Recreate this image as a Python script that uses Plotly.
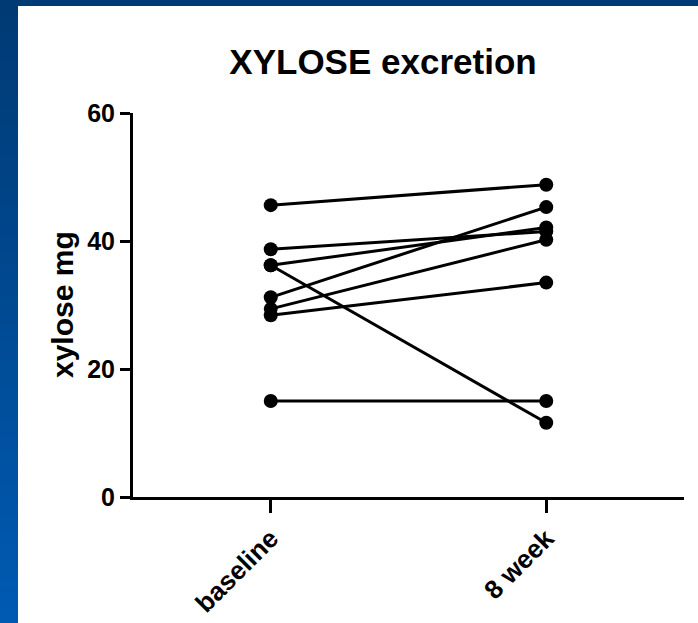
import plotly.graph_objects as go

# ---- data ----
timepoints = ["baseline", "8 week"]
baseline = [45.6, 38.7, 36.2, 36.2, 31.2, 29.4, 28.4, 15.0]
week8 = [48.8, 41.5, 42.1, 11.6, 45.3, 40.2, 33.5, 15.0]
y_ticks = [0, 20, 40, 60]
title_text = "XYLOSE excretion"
y_label = "xylose mg"

W, H = 698, 623
ML, MR, MT, MB = 133, 14, 113, 126
PW = W - ML - MR
PH = H - MT - MB

def px_x(p):
    return (p - ML) / PW

def px_y(p):
    return 1 - (p - MT) / PH

fig = go.Figure()
for b, w in zip(baseline, week8):
    fig.add_trace(go.Scatter(
        x=timepoints, y=[b, w], mode="lines+markers",
        line=dict(color="black", width=3),
        marker=dict(color="black", size=14, symbol="circle"),
        showlegend=False, cliponaxis=False,
    ))

# blue frame (top band + left gradient band)
shapes = []
shapes.append(dict(type="rect", xref="paper", yref="paper",
                   x0=px_x(0), x1=px_x(W), y0=px_y(0), y1=px_y(6),
                   fillcolor="#003A74", line=dict(width=0), layer="below"))
n = 40
c0 = (0, 58, 116)
c1 = (0, 90, 178)
for i in range(n):
    t = i / (n - 1)
    col = "rgb(%d,%d,%d)" % tuple(round(a + (b - a) * t) for a, b in zip(c0, c1))
    y0 = H * i / n
    y1 = H * (i + 1) / n + 1
    shapes.append(dict(type="rect", xref="paper", yref="paper",
                       x0=px_x(0), x1=px_x(18), y0=px_y(y0), y1=px_y(min(y1, H)),
                       fillcolor=col, line=dict(width=0), layer="below"))

font_family = "Liberation Sans, Arial, sans-serif"

fig.update_layout(
    width=W, height=H,
    margin=dict(l=ML, r=MR, t=MT, b=MB, pad=0, autoexpand=False),
    paper_bgcolor="white", plot_bgcolor="white",
    shapes=shapes,
    title=dict(text="<b>%s</b>" % title_text, x=px_x(383), xref="paper", xanchor="center",
               y=1 - 62 / H, yref="container", yanchor="middle", automargin=False,
               font=dict(family=font_family, size=35, color="black")),
    xaxis=dict(type="category", categoryorder="array", categoryarray=timepoints,
               range=[-0.5, 1.5], showline=True, linecolor="black", linewidth=3,
               ticks="outside", ticklen=13, tickwidth=3, tickcolor="black",
               tickangle=-45, showgrid=False, zeroline=False, automargin=False,
               tickfont=dict(family=font_family, size=26, color="black", weight="bold")),
    yaxis=dict(range=[0, 60], tickvals=y_ticks, showline=True, linecolor="black",
               linewidth=3, ticks="outside", ticklen=10, tickwidth=3, tickcolor="black",
               showgrid=False, zeroline=False, automargin=False,
               tickfont=dict(family=font_family, size=25, color="black", weight="bold")),
    annotations=[dict(text="<b>%s</b>" % y_label, xref="paper", yref="paper",
                      x=px_x(62), y=0.5, xanchor="center", yanchor="middle",
                      textangle=-90, showarrow=False,
                      font=dict(family=font_family, size=30, color="black"))],
)

fig.write_html("out.html")
